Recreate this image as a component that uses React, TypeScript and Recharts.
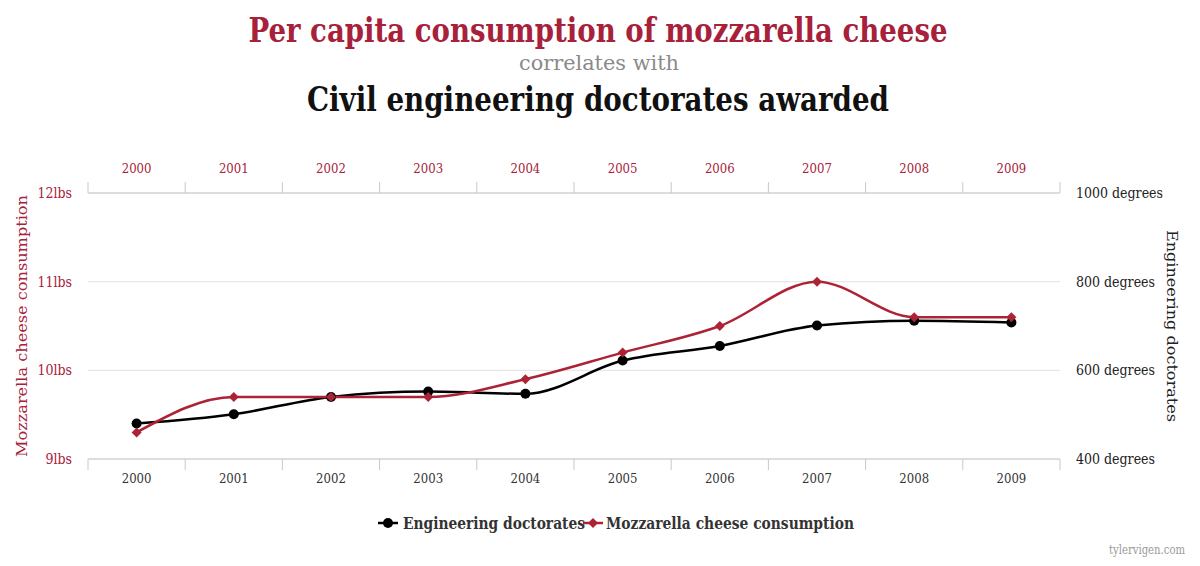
import React from 'react';
import { LineChart, Line, XAxis, YAxis, CartesianGrid } from 'recharts';

const years = [2000, 2001, 2002, 2003, 2004, 2005, 2006, 2007, 2008, 2009];
const mozzarella = [9.3, 9.7, 9.7, 9.7, 9.9, 10.2, 10.5, 11.0, 10.6, 10.6];
const doctorates = [480, 501, 540, 552, 547, 622, 655, 701, 712, 708];
const leftTicks = [9, 10, 11, 12];
const rightTicks = [400, 600, 800, 1000];
const xTicks = [1999.5, 2000, 2000.5, 2001, 2001.5, 2002, 2002.5, 2003, 2003.5, 2004, 2004.5, 2005, 2005.5, 2006, 2006.5, 2007, 2007.5, 2008, 2008.5, 2009, 2009.5];

const data = years.map((y, i) => ({ year: y, mozzarella: mozzarella[i], doctorates: doctorates[i] }));

const SERIF = "'DejaVu Serif Condensed', 'DejaVu Serif', serif";
const RED = '#a8213a';
const LINE_RED = '#ad2336';
const AXIS = '#c9c9c9';

const XTick = (props: any) => {
  const { x, y, payload, side } = props;
  const v = payload.value;
  const isBoundary = Math.abs(v - Math.round(v)) > 0.1;
  if (isBoundary) {
    return side === 'top'
      ? <line x1={x} x2={x} y1={y - 11} y2={y} stroke={AXIS} strokeWidth={1} />
      : <line x1={x} x2={x} y1={y} y2={y + 11} stroke={AXIS} strokeWidth={1} />;
  }
  return (
    <text x={x} y={side === 'top' ? y - 20 : y + 24} textAnchor="middle" fontFamily={SERIF} fontSize={13}
      fill={side === 'top' ? RED : '#333'}>{v}</text>
  );
};

const Diamond = (props: any) => {
  const { cx, cy } = props;
  if (cx == null || cy == null) return null;
  const r = 5;
  return <path d={`M${cx},${cy - r}L${cx + r},${cy}L${cx},${cy + r}L${cx - r},${cy}Z`} fill={LINE_RED} />;
};

const Dot = (props: any) => {
  const { cx, cy } = props;
  if (cx == null || cy == null) return null;
  return <circle cx={cx} cy={cy} r={5} fill="#000" />;
};

export default function App() {
  return (
    <div style={{ position: 'absolute', left: 0, top: 0, width: 1200, height: 566, background: '#fff' }}>
      <LineChart width={1200} height={566} data={data} margin={{ top: 163, right: 0, bottom: 67, left: 0 }}>
        <CartesianGrid vertical={false} horizontal stroke="#e3e3e3" yAxisId="left" xAxisId="bottom" />
        <XAxis xAxisId="top" orientation="top" dataKey="year" type="number" domain={[1999.5, 2009.5]}
          ticks={xTicks} interval={0} height={30} tickSize={0} tickMargin={0} tickLine={false}
          axisLine={{ stroke: AXIS }} tick={<XTick side="top" />} allowDataOverflow />
        <XAxis xAxisId="bottom" orientation="bottom" dataKey="year" type="number" domain={[1999.5, 2009.5]}
          ticks={xTicks} interval={0} height={40} tickSize={0} tickMargin={0} tickLine={false}
          axisLine={{ stroke: AXIS }} tick={<XTick side="bottom" />} allowDataOverflow />
        <YAxis yAxisId="left" orientation="left" width={88} domain={[9, 12]} ticks={leftTicks} interval={0}
          axisLine={false} tickLine={false} tickSize={0} tickMargin={16}
          tickFormatter={(v: number) => `${v}lbs`}
          tick={{ fill: RED, fontSize: 14, fontFamily: SERIF }} />
        <YAxis yAxisId="right" orientation="right" width={140} domain={[400, 1000]} ticks={rightTicks} interval={0}
          axisLine={false} tickLine={false} tickSize={0} tickMargin={16}
          tickFormatter={(v: number) => `${v} degrees`}
          tick={{ fill: '#222', fontSize: 14, fontFamily: SERIF }} />
        <Line xAxisId="bottom" yAxisId="right" type="monotone" dataKey="doctorates" stroke="#000" strokeWidth={2.5}
          dot={<Dot />} activeDot={false} isAnimationActive={false} />
        <Line xAxisId="bottom" yAxisId="left" type="monotone" dataKey="mozzarella" stroke={LINE_RED} strokeWidth={2.5}
          dot={<Diamond />} activeDot={false} isAnimationActive={false} />
      </LineChart>
      <svg width={1200} height={566} style={{ position: 'absolute', left: 0, top: 0, pointerEvents: 'none' }}>
        <text x={598} y={42} textAnchor="middle" fontFamily={SERIF} fontWeight="bold" fontSize={33} fill={RED}
          textLength={699} lengthAdjust="spacingAndGlyphs">Per capita consumption of mozzarella cheese</text>
        <text x={599} y={70} textAnchor="middle" fontFamily={SERIF} fontSize={20} fill="#8a8a8a"
          textLength={160} lengthAdjust="spacingAndGlyphs">correlates with</text>
        <text x={598} y={111} textAnchor="middle" fontFamily={SERIF} fontWeight="bold" fontSize={33} fill="#111"
          textLength={582} lengthAdjust="spacingAndGlyphs">Civil engineering doctorates awarded</text>
        <text x={22} y={326} textAnchor="middle" fontFamily={SERIF} fontSize={15} fill={RED}
          transform="rotate(-90 22 326)" dy={5} textLength={262} lengthAdjust="spacingAndGlyphs">Mozzarella cheese consumption</text>
        <text x={1172} y={326} textAnchor="middle" fontFamily={SERIF} fontSize={15} fill="#222"
          transform="rotate(90 1172 326)" dy={5} textLength={192} lengthAdjust="spacingAndGlyphs">Engineering doctorates</text>
        <line x1={378} x2={398} y1={523} y2={523} stroke="#000" strokeWidth={2.5} />
        <circle cx={388} cy={523} r={5} fill="#000" />
        <text x={403} y={529} fontFamily={SERIF} fontWeight="bold" fontSize={16} fill="#333"
          textLength={182} lengthAdjust="spacingAndGlyphs">Engineering doctorates</text>
        <line x1={583} x2={603} y1={523} y2={523} stroke={LINE_RED} strokeWidth={2.5} />
        <path d="M593,518L598,523L593,528L588,523Z" fill={LINE_RED} />
        <text x={606} y={529} fontFamily={SERIF} fontWeight="bold" fontSize={16} fill="#333"
          textLength={248} lengthAdjust="spacingAndGlyphs">Mozzarella cheese consumption</text>
        <text x={1185} y={554} textAnchor="end" fontFamily={SERIF} fontSize={12} fill="#9a9a9a"
          textLength={76} lengthAdjust="spacingAndGlyphs">tylervigen.com</text>
      </svg>
    </div>
  );
}
